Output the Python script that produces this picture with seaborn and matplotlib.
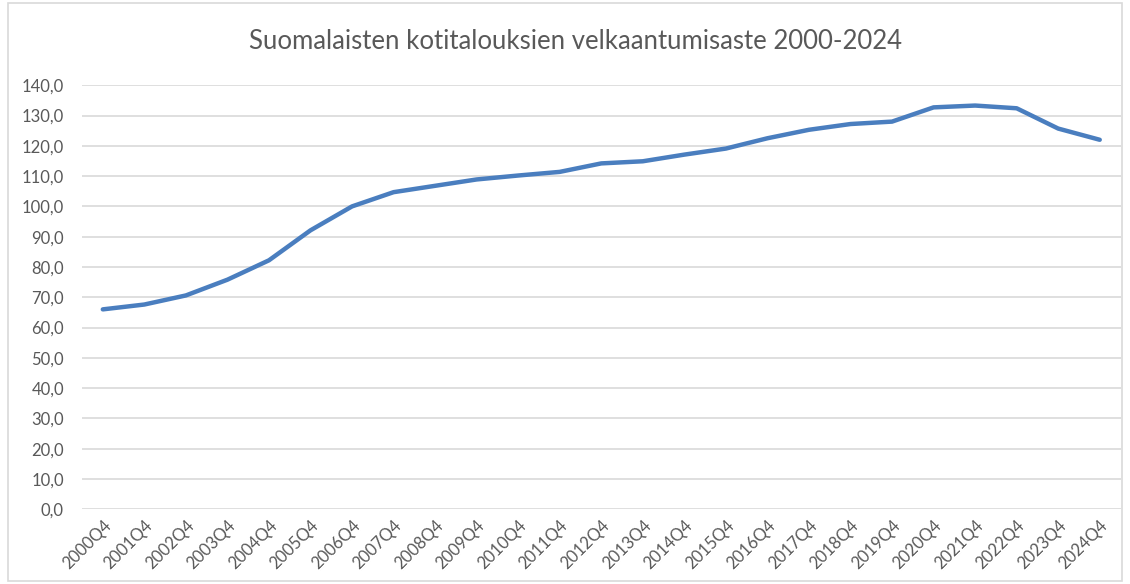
import matplotlib
matplotlib.use("Agg")
import matplotlib.pyplot as plt
import seaborn as sns
import pandas as pd
from matplotlib.patches import Rectangle

# Data
quarters = [f"{y}Q4" for y in range(2000, 2025)]
debt_ratio = [66.0, 67.6, 70.6, 75.8, 82.2, 92.1, 100.0, 104.7, 106.8, 108.9,
              110.2, 111.4, 114.2, 114.9, 117.1, 119.1, 122.5, 125.3, 127.2, 128.0,
              132.7, 133.3, 132.4, 125.7, 122.0]

df = pd.DataFrame({"quarter": quarters, "ratio": debt_ratio})

sns.set_style("white")
plt.rcParams["font.family"] = ["Lato", "DejaVu Sans"]

text_col = "#595959"
grid_col = "#d9d9d9"

fig = plt.figure(figsize=(11.3, 5.84), dpi=100)
ax = fig.add_axes([0.0726, 0.128, 0.919, 0.726])

sns.lineplot(data=df, x="quarter", y="ratio", ax=ax, color="#4a7ebf",
             linewidth=3.2, sort=False, solid_capstyle="round")

ax.set_ylim(0, 140)
ax.set_yticks(range(0, 141, 10))
ax.set_yticklabels([f"{v},0" for v in range(0, 141, 10)])
ax.set_xlim(-0.5, len(quarters) - 0.5)
ax.grid(axis="y", color=grid_col, linewidth=1.2)
ax.set_axisbelow(True)
for s in ax.spines.values():
    s.set_visible(False)

ax.tick_params(axis="both", length=0, labelsize=12, colors=text_col)
ax.tick_params(axis="y", pad=13)
ax.tick_params(axis="x", pad=6)
plt.setp(ax.get_xticklabels(), rotation=45, ha="right", rotation_mode="anchor")
ax.set_xlabel("")
ax.set_ylabel("")

fig.suptitle("Suomalaisten kotitalouksien velkaantumisaste 2000-2024",
             x=0.509, y=0.95, fontsize=18.5, color=text_col)

# light frame around the chart area like in Excel
fig.patches.append(Rectangle((0.007, 0.005), 0.986, 0.99, transform=fig.transFigure,
                             fill=False, edgecolor=grid_col, linewidth=1.2))

fig.savefig("out.png", dpi=100)
